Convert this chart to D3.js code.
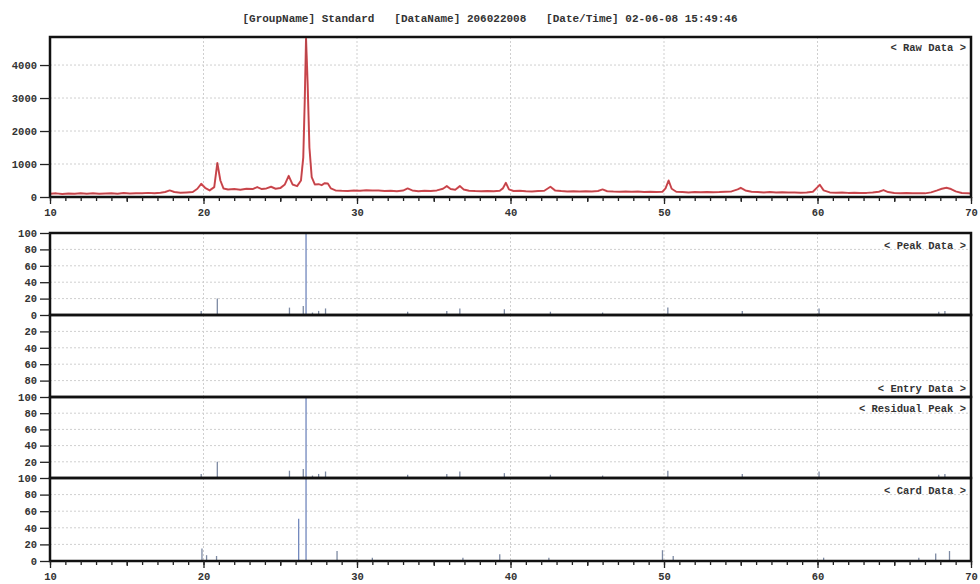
<!DOCTYPE html>
<html>
<head>
<meta charset="utf-8">
<script src="https://cdn.jsdelivr.net/npm/d3@7"></script>
<style>
    body { margin: 0; background: #fff; }
    text { font-family: "Liberation Mono", "DejaVu Sans Mono", monospace; font-weight: bold; fill: #333; }
</style>
</head>
<body>
<svg id="chart"></svg>
<script>
// values (2-theta, counts)
var rawData = [
    [10.0, 95], [10.4, 110], [10.8, 90], [11.2, 105], [11.6, 95], [12.0, 115], [12.4, 100], [12.8, 110],
    [13.2, 95], [13.6, 105], [14.0, 110], [14.4, 100], [14.8, 120], [15.2, 105], [15.6, 115], [16.0, 110],
    [16.4, 125], [16.8, 115], [17.2, 130], [17.5, 150], [17.8, 200], [18.1, 150], [18.5, 130], [18.9, 140],
    [19.3, 150], [19.6, 250], [19.85, 400], [20.1, 280], [20.4, 200], [20.7, 300], [20.9, 1030], [21.1, 500],
    [21.3, 260], [21.6, 230], [22.0, 240], [22.4, 220], [22.8, 250], [23.2, 240], [23.5, 300], [23.8, 240],
    [24.1, 260], [24.4, 310], [24.7, 250], [25.0, 270], [25.3, 380], [25.55, 640], [25.8, 380], [26.1, 330],
    [26.35, 500], [26.5, 1200], [26.6, 3000], [26.68, 4800], [26.78, 3500], [26.9, 1500], [27.05, 600], [27.25, 380],
    [27.5, 390], [27.7, 360], [27.9, 420], [28.1, 410], [28.3, 260], [28.6, 200], [29.0, 190], [29.4, 185],
    [29.8, 200], [30.2, 190], [30.6, 205], [31.0, 195], [31.4, 200], [31.8, 185], [32.2, 190], [32.6, 175],
    [33.0, 195], [33.3, 260], [33.6, 200], [34.0, 175], [34.4, 190], [34.8, 180], [35.2, 200], [35.6, 250],
    [35.85, 330], [36.1, 240], [36.4, 220], [36.7, 330], [36.95, 230], [37.3, 190], [37.7, 180], [38.1, 175],
    [38.5, 185], [38.9, 175], [39.3, 190], [39.5, 260], [39.7, 430], [39.9, 230], [40.2, 180], [40.6, 190],
    [41.0, 175], [41.4, 170], [41.8, 180], [42.2, 190], [42.6, 310], [42.9, 200], [43.3, 180], [43.7, 170],
    [44.1, 175], [44.5, 165], [44.9, 175], [45.3, 170], [45.7, 180], [46.0, 230], [46.3, 175], [46.7, 165],
    [47.1, 160], [47.5, 170], [47.9, 160], [48.3, 165], [48.7, 155], [49.1, 160], [49.5, 150], [49.9, 160],
    [50.1, 260], [50.3, 500], [50.5, 250], [50.8, 160], [51.2, 150], [51.6, 140], [52.0, 150], [52.4, 145],
    [52.8, 155], [53.2, 145], [53.6, 150], [54.0, 160], [54.4, 170], [54.8, 230], [55.0, 280], [55.3, 200],
    [55.7, 160], [56.1, 150], [56.5, 140], [56.9, 150], [57.3, 140], [57.7, 145], [58.1, 135], [58.5, 140],
    [58.9, 130], [59.3, 140], [59.7, 160], [60.0, 300], [60.15, 370], [60.4, 200], [60.8, 140], [61.2, 130],
    [61.6, 135], [62.0, 125], [62.4, 130], [62.8, 120], [63.2, 125], [63.6, 140], [64.0, 160], [64.3, 210],
    [64.6, 150], [65.0, 120], [65.4, 115], [65.8, 120], [66.2, 110], [66.6, 115], [67.0, 110], [67.4, 140],
    [67.8, 200], [68.1, 250], [68.4, 280], [68.7, 240], [69.0, 170], [69.4, 120], [69.8, 110], [70.0, 105]
];

var peakTheta = [19.85, 20.9, 25.6, 26.5, 26.68, 27.1, 27.5, 27.95, 33.3, 35.85, 36.7, 39.6, 42.6, 46.0, 50.25, 55.1, 60.1, 67.9, 68.3];
var peakIntensity = [5, 20, 9, 11, 100, 3, 5, 8, 4, 5, 8, 7, 4, 3, 9, 5, 8, 4, 5];

var residualTheta = [19.85, 20.9, 25.6, 26.5, 26.68, 27.1, 27.5, 27.95, 33.3, 35.85, 36.7, 39.6, 42.6, 46.0, 50.25, 55.1, 60.1, 67.9, 68.3];
var residualIntensity = [5, 20, 9, 11, 100, 3, 5, 8, 4, 5, 8, 6, 4, 3, 9, 5, 8, 4, 5];

var cardTheta = [19.9, 20.2, 20.85, 26.2, 26.68, 28.7, 31.0, 36.9, 39.3, 42.5, 49.9, 50.6, 60.4, 66.6, 67.7, 68.6];
var cardIntensity = [15, 7, 6, 51, 100, 12, 4, 4, 8, 4, 13, 6, 4, 4, 9, 12];

var xTicks = [10, 20, 30, 40, 50, 60, 70];
var rawTicks = [0, 1000, 2000, 3000, 4000];
var titleText = "[GroupName] Standard   [DataName] 206022008   [Date/Time] 02-06-08 15:49:46";

var width = 980,
    height = 584,
    left = 50,
    right = 971;

var svg = d3.select("#chart")
    .attr("width", width)
    .attr("height", height);

var x = d3.scaleLinear().domain([10, 70]).range([left, right]);

// title
svg.append("text")
    .attr("x", 490).attr("y", 22)
    .attr("text-anchor", "middle")
    .style("font-size", "11px")
    .style("white-space", "pre")
    .text(titleText);

function drawGrid(y, vals, top, bottom) {
    var g = svg.append("g").attr("class", "grid");
    g.selectAll("line.h").data(vals).enter().append("line")
        .attr("x1", left).attr("x2", right)
        .attr("y1", function (d) { return y(d); })
        .attr("y2", function (d) { return y(d); });
    g.selectAll("line.v").data(xTicks.slice(1, -1)).enter().append("line")
        .attr("x1", x).attr("x2", x)
        .attr("y1", top).attr("y2", bottom);
    g.selectAll("line")
        .attr("stroke", "#cfcfcf")
        .attr("stroke-width", 1)
        .attr("stroke-dasharray", "2,2");
}

function drawYAxis(y, labels, minors) {
    var g = svg.append("g").attr("transform", "translate(" + left + ",0)");
    g.call(d3.axisLeft(y).tickValues(minors).tickSize(4).tickFormat(""));
    g.call(d3.axisLeft(y).tickValues(labels).tickSize(10).tickPadding(3).tickFormat(d3.format("d")));
    g.selectAll(".domain").remove();
    g.selectAll("line").attr("stroke", "#222").attr("stroke-width", 1.3);
    g.selectAll("text").style("font-size", "10.5px").style("font-family", null);
}

function drawXAxis(yPos) {
    var g = svg.append("g").attr("transform", "translate(0," + yPos + ")");
    g.append("g").call(d3.axisBottom(x).tickValues(d3.range(10, 71, 1)).tickSize(4).tickFormat(""));
    g.append("g").call(d3.axisBottom(x).tickValues(d3.range(15, 70, 10)).tickSize(5).tickFormat(""));
    g.append("g").call(d3.axisBottom(x).tickValues(xTicks).tickSize(7).tickPadding(5));
    g.selectAll(".domain").remove();
    g.selectAll("line").attr("stroke", "#222").attr("stroke-width", 1.3);
    g.selectAll("text").style("font-size", "10.5px").style("font-family", null);
}

function drawSticks(y, thetas, vals) {
    svg.append("g").selectAll("line").data(thetas).enter().append("line")
        .attr("x1", function (d) { return x(d); })
        .attr("x2", function (d) { return x(d); })
        .attr("y1", y(0))
        .attr("y2", function (d, i) { return y(vals[i]); })
        .attr("stroke", function (d, i) { return vals[i] > 40 ? "#7187bd" : "#7d8aa3"; })
        .attr("stroke-width", 1.3);
}

function panelLabel(txt, yPos) {
    svg.append("text")
        .attr("x", 966).attr("y", yPos)
        .attr("text-anchor", "end")
        .style("font-size", "10.5px")
        .style("white-space", "pre")
        .text(txt);
}

// ---- raw data panel
var yRaw = d3.scaleLinear().domain([0, 4850]).range([197, 37]);
drawGrid(yRaw, rawTicks.slice(1), 37, 197);

var line = d3.line()
    .x(function (d) { return x(d[0]); })
    .y(function (d) { return yRaw(d[1]); });

svg.append("path").datum(rawData)
    .attr("d", line)
    .attr("fill", "none")
    .attr("stroke", "#de4b52")
    .attr("stroke-width", 2)
    .attr("stroke-linejoin", "round");
svg.append("path").datum(rawData)
    .attr("d", line)
    .attr("fill", "none")
    .attr("stroke", "#5a3a3a")
    .attr("stroke-opacity", 0.5)
    .attr("stroke-width", 0.6);

svg.append("rect")
    .attr("x", left).attr("y", 37)
    .attr("width", right - left).attr("height", 197 - 37)
    .attr("fill", "none").attr("stroke", "#111").attr("stroke-width", 2.5);
drawYAxis(yRaw, rawTicks, d3.range(0, 4801, 200));
drawXAxis(197);
panelLabel("< Raw Data >", 51);

// ---- stacked percentage panels
var yPeak = d3.scaleLinear().domain([0, 100]).range([315, 233]);
var yEntry = d3.scaleLinear().domain([0, 100]).range([315, 397]);
var yResidual = d3.scaleLinear().domain([0, 100]).range([478, 397]);
var yCard = d3.scaleLinear().domain([0, 100]).range([561, 478]);

drawGrid(yPeak, [20, 40, 60, 80], 233, 315);
drawGrid(yEntry, [20, 40, 60, 80], 315, 397);
drawGrid(yResidual, [20, 40, 60, 80], 397, 478);
drawGrid(yCard, [20, 40, 60, 80], 478, 561);

drawSticks(yPeak, peakTheta, peakIntensity);
drawSticks(yResidual, residualTheta, residualIntensity);
drawSticks(yCard, cardTheta, cardIntensity);

[[233, 315], [315, 397], [397, 478], [478, 561]].forEach(function (p) {
    svg.append("rect")
        .attr("x", left).attr("y", p[0])
        .attr("width", right - left).attr("height", p[1] - p[0])
        .attr("fill", "none").attr("stroke", "#111").attr("stroke-width", 2.5);
});

var pctMinor = d3.range(0, 101, 5);
drawYAxis(yPeak, [0, 20, 40, 60, 80, 100], pctMinor);
drawYAxis(yEntry, [20, 40, 60, 80], pctMinor);
drawYAxis(yResidual, [20, 40, 60, 80, 100], pctMinor);
drawYAxis(yCard, [0, 20, 40, 60, 80, 100], pctMinor);
drawXAxis(561);

panelLabel("< Peak Data >", 249);
panelLabel("< Entry Data >", 392);
panelLabel("< Residual Peak >", 412);
panelLabel("< Card Data >", 494);
</script>
</body>
</html>
